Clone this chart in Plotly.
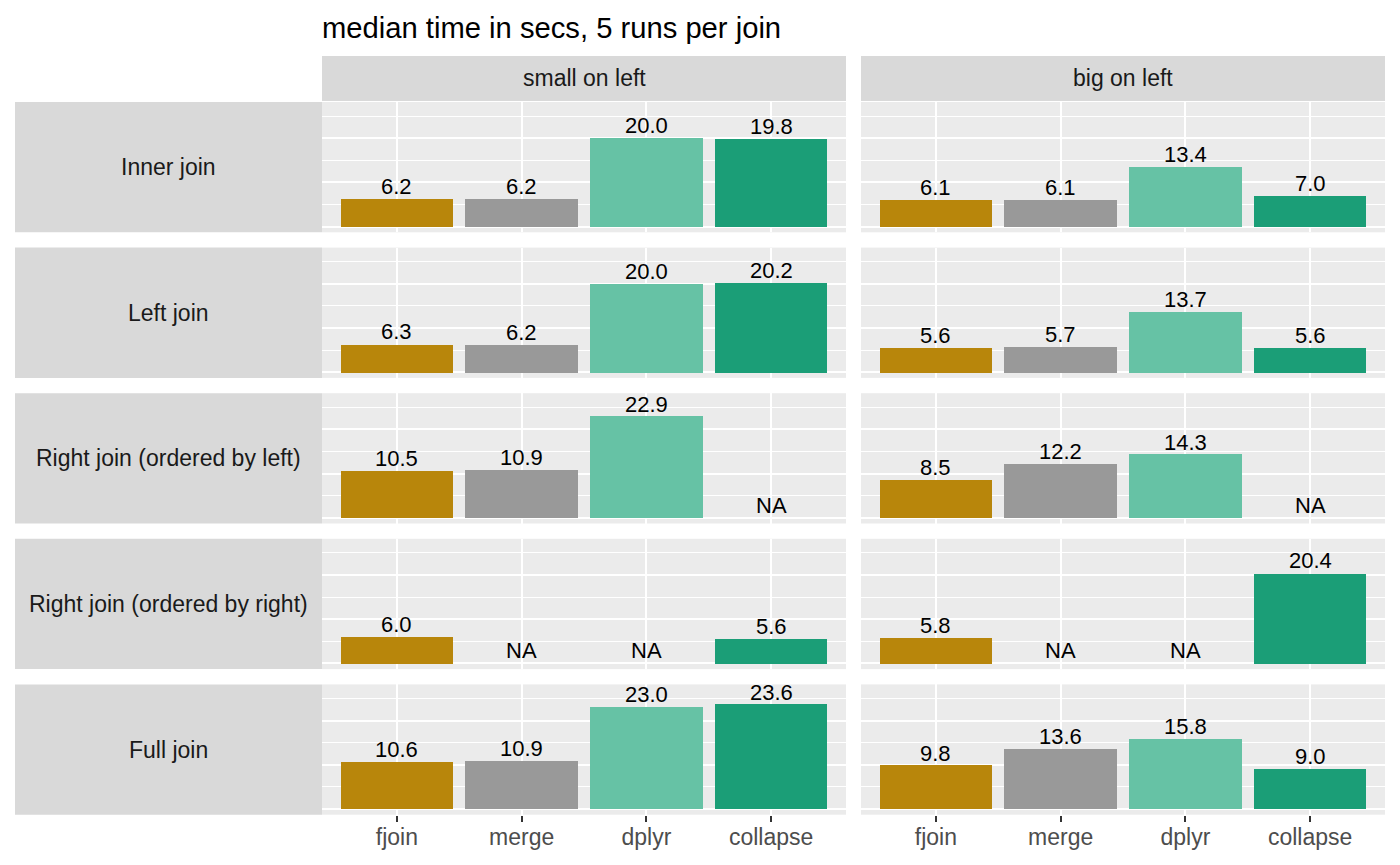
import plotly.graph_objects as go

# ---------------- data ----------------
methods = ["fjoin", "merge", "dplyr", "collapse"]
joins = ["Inner join", "Left join", "Right join (ordered by left)",
         "Right join (ordered by right)", "Full join"]
sides = ["small on left", "big on left"]
method_colors = ["#B8860B", "#999999", "#66C2A5", "#1B9E77"]
title_text = "median time in secs, 5 runs per join"

small_inner = [6.2, 6.2, 20.0, 19.8]
small_left = [6.3, 6.2, 20.0, 20.2]
small_right_by_left = [10.5, 10.9, 22.9, None]
small_right_by_right = [6.0, None, None, 5.6]
small_full = [10.6, 10.9, 23.0, 23.6]

big_inner = [6.1, 6.1, 13.4, 7.0]
big_left = [5.6, 5.7, 13.7, 5.6]
big_right_by_left = [8.5, 12.2, 14.3, None]
big_right_by_right = [5.8, None, None, 20.4]
big_full = [9.8, 13.6, 15.8, 9.0]

small_series = [small_inner, small_left, small_right_by_left, small_right_by_right, small_full]
big_series = [big_inner, big_left, big_right_by_left, big_right_by_right, big_full]

# ---------------- layout geometry (pixels) ----------------
W, H = 1400, 865
FONT = "Liberation Sans"
col_x = [(322, 846), (861, 1385)]
row_top0, row_h, row_step = 102.0, 130.3, 145.6
strip_row_x = (15, 322)
strip_col_y = (56, 101)
y_range = [-1.27, 28.21]


def px_x(p):
    return p / W


def px_y(p):
    return 1 - p / H


fig = go.Figure()
layout_axes = {}
shapes = []
annotations = []

for r, join in enumerate(joins):
    top = row_top0 + r * row_step
    bot = top + row_h
    for c, side in enumerate(sides):
        idx = r * 2 + c + 1
        xa = "x" if idx == 1 else f"x{idx}"
        ya = "y" if idx == 1 else f"y{idx}"
        vals = (small_series if c == 0 else big_series)[r]
        fig.add_trace(go.Bar(
            x=methods, y=vals, marker=dict(color=method_colors, line=dict(width=0)),
            width=0.9, xaxis=xa, yaxis=ya, showlegend=False, hoverinfo="x+y"))
        for m, v in zip(methods, vals):
            annotations.append(dict(
                text=f"{v:.1f}" if v is not None else "NA",
                x=m, y=v if v is not None else 0, xref=xa, yref=ya,
                xanchor="center", yanchor="bottom", yshift=-2, showarrow=False,
                font=dict(family=FONT, size=22, color="#000000")))
        bottom_row = (r == len(joins) - 1)
        layout_axes["xaxis" if idx == 1 else f"xaxis{idx}"] = dict(
            domain=[px_x(col_x[c][0]), px_x(col_x[c][1])],
            anchor=ya, type="category", categoryorder="array", categoryarray=methods,
            range=[-0.6, 3.6], showgrid=True, gridcolor="white", gridwidth=2.2,
            zeroline=False, showline=False,
            showticklabels=bottom_row, ticks="outside" if bottom_row else "",
            ticklen=6, tickwidth=2.2, tickcolor="#333333",
            ticklabelstandoff=-4,
            tickfont=dict(family=FONT, size=23, color="#4D4D4D"),
            fixedrange=True)
        layout_axes["yaxis" if idx == 1 else f"yaxis{idx}"] = dict(
            domain=[px_y(bot), px_y(top)], anchor=xa, range=y_range,
            tick0=0, dtick=10, showgrid=True, gridcolor="white", gridwidth=2.2,
            minor=dict(tick0=5, dtick=10, showgrid=True, gridcolor="white", gridwidth=1.1),
            zeroline=False, showline=False, showticklabels=False, ticks="",
            fixedrange=True)
    # row strip
    shapes.append(dict(type="rect", xref="paper", yref="paper",
                       x0=px_x(strip_row_x[0]), x1=px_x(strip_row_x[1]),
                       y0=px_y(bot), y1=px_y(top), fillcolor="#D9D9D9",
                       line=dict(width=0), layer="below"))
    annotations.append(dict(text=join, xref="paper", yref="paper",
                            x=px_x((strip_row_x[0] + strip_row_x[1]) / 2),
                            y=px_y((top + bot) / 2), xanchor="center", yanchor="middle",
                            showarrow=False, font=dict(family=FONT, size=23, color="#1A1A1A")))

for c, side in enumerate(sides):
    shapes.append(dict(type="rect", xref="paper", yref="paper",
                       x0=px_x(col_x[c][0]), x1=px_x(col_x[c][1]),
                       y0=px_y(strip_col_y[1]), y1=px_y(strip_col_y[0]),
                       fillcolor="#D9D9D9", line=dict(width=0), layer="below"))
    annotations.append(dict(text=side, xref="paper", yref="paper",
                            x=px_x((col_x[c][0] + col_x[c][1]) / 2),
                            y=px_y((strip_col_y[0] + strip_col_y[1]) / 2),
                            xanchor="center", yanchor="middle", showarrow=False,
                            font=dict(family=FONT, size=23, color="#1A1A1A")))

annotations.append(dict(text=title_text, xref="paper", yref="paper",
                        x=px_x(320), y=px_y(28), xanchor="left", yanchor="middle",
                        showarrow=False, font=dict(family=FONT, size=29.2, color="#000000")))

fig.update_layout(
    width=W, height=H, margin=dict(l=0, r=0, t=0, b=0),
    paper_bgcolor="white", plot_bgcolor="#EBEBEB",
    font=dict(family=FONT), bargap=0, showlegend=False,
    shapes=shapes, annotations=annotations, **layout_axes)

fig.write_html("out.html", config={"displayModeBar": False},
               post_script="document.body.style.margin='0px';")
